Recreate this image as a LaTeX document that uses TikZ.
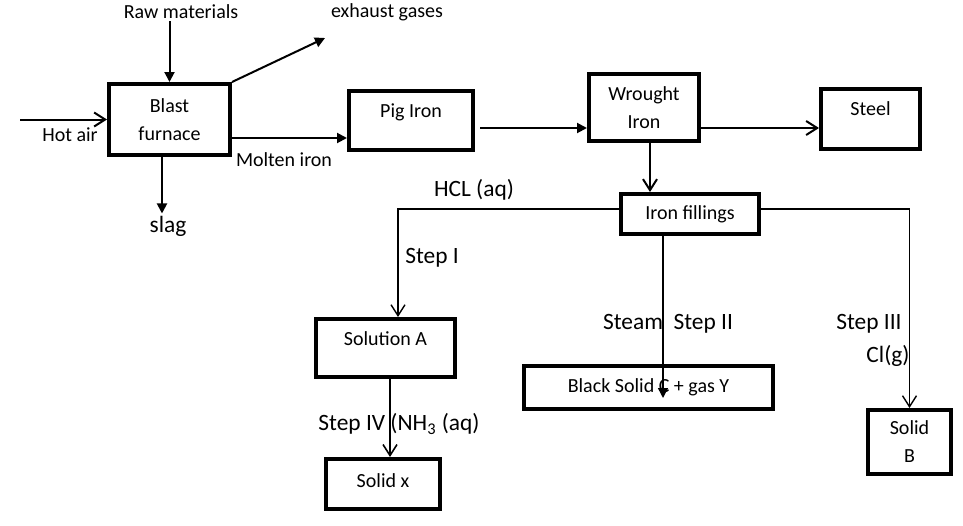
\documentclass[tikz,border=0pt]{standalone}
\usepackage{fontspec}
\setmainfont{Carlito}
\usetikzlibrary{arrows.meta}
\begin{document}
\begin{tikzpicture}[x=0.5pt,y=-0.5pt,
    box_node/.style={draw,line width=2pt,align=center,font=\fontsize{10}{14}\selectfont,inner sep=0pt},
    up_text/.style={text height=7pt,text depth=#1},
    small_label/.style={font=\fontsize{10}{12}\selectfont,inner sep=1pt},
    big_label/.style={font=\fontsize{11.7}{14}\selectfont,inner sep=1pt},
    tri_arrow/.style={line width=1pt,-{Triangle[length=5pt,width=5pt]}},
    open_arrow/.style={line width=1pt,-{Straight Barb[length=5.5pt,width=7pt]}},
    thin_arrow/.style={line width=0.7pt,-{Straight Barb[length=5.5pt,width=7pt]}}]
    \useasboundingbox (0,0) rectangle (963,525);
    \node[box_node,minimum width=60.5pt,minimum height=35.5pt] (blast) at (169.5,119.5) {Blast\\furnace};
    \node[box_node,up_text=10.5pt,minimum width=62pt,minimum height=29.5pt] (pig) at (411,120.5) {Pig Iron};
    \node[box_node,minimum width=55pt,minimum height=33.5pt] (wrought) at (644,107.5) {Wrought\\Iron};
    \node[box_node,up_text=11pt,minimum width=49.5pt,minimum height=30pt] (steel) at (870.5,119) {Steel};
    \node[box_node,minimum width=69pt,minimum height=20pt] (fillings) at (690,214) {Iron fillings};
    \node[box_node,up_text=10pt,minimum width=69.5pt,minimum height=29pt] (solA) at (385.5,348) {Solution A};
    \node[box_node,up_text=4pt,minimum width=57pt,minimum height=25pt] (solX) at (383,484) {Solid x};
    \node[box_node,minimum width=124.5pt,minimum height=21.5pt] (blackC) at (648.5,387.5) {Black Solid C + gas Y};
    \node[box_node,minimum width=41.5pt,minimum height=32pt] (solB) at (909.5,442) {Solid\\B};
    \node[small_label] (raw) at (181,12) {Raw materials};
    \node[small_label] (exhaust) at (387,12) {exhaust gases};
    \node[small_label] (hot) at (70,135) {Hot air};
    \node[small_label] (molten) at (284,160) {Molten iron};
    \node[big_label] (slag) at (168,226) {slag};
    \node[big_label] (hcl) at (474,190) {HCL (aq)};
    \node[big_label] (step1) at (432,258) {Step I};
    \node[big_label] (step2) at (668,324) {Steam\ \ Step II};
    \node[big_label] (step3) at (869,324) {Step III};
    \node[big_label] (cl) at (888,356) {Cl(g)};
    \node[big_label] (step4) at (399,424) {Step IV (NH\textsubscript{3} (aq)};
    \coordinate (air) at (20,119.5);
    \coordinate (gas) at (325,38);
    \draw[open_arrow] (air) -- (blast.west);
    \draw[tri_arrow] (raw.south -| blast.north) -- (blast.north);
    \draw[tri_arrow] (blast.north east) -- (gas);
    \draw[tri_arrow] ([yshift=-9.25pt]blast.east) -- ([yshift=-9.25pt]blast.east -| pig.west);
    \draw[tri_arrow] ([xshift=-3.75pt]blast.south) -- ([xshift=-3.75pt]blast.south |- slag.north);
    \draw[tri_arrow] ([xshift=2.5pt,yshift=-3.75pt]pig.east) -- ([yshift=-10.25pt]wrought.west);
    \draw[open_arrow] ([yshift=-10.25pt]wrought.east) -- ([yshift=-4.5pt]steel.west);
    \draw[open_arrow] ([xshift=3pt]wrought.south) -- ([xshift=-20pt]fillings.north);
    \draw[thin_arrow] ([yshift=2.5pt]fillings.west) -| ([xshift=6.25pt]solA.north);
    \draw[thin_arrow] ([yshift=2.5pt]fillings.east) -| (solB.north);
    \draw[tri_arrow,line width=0.7pt] ([xshift=-13.5pt]fillings.south) -- ([xshift=7.25pt,yshift=-5.25pt]blackC.center);
    \draw[open_arrow,line width=0.8pt] ([xshift=2.25pt]solA.south) -- ([xshift=3.5pt]solX.north);
\end{tikzpicture}
\end{document}
